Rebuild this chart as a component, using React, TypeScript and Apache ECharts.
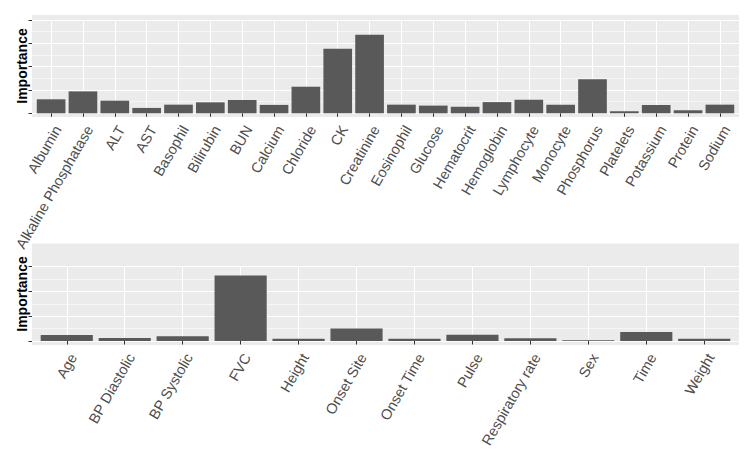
import React, { useEffect, useRef } from "react";
import * as echarts from "echarts";

const labCategories = [
  "Albumin", "Alkaline Phosphatase", "ALT", "AST", "Basophil", "Bilirubin", "BUN",
  "Calcium", "Chloride", "CK", "Creatinine", "Eosinophil", "Glucose", "Hematocrit",
  "Hemoglobin", "Lymphocyte", "Monocyte", "Phosphorus", "Platelets", "Potassium",
  "Protein", "Sodium",
];
const labImportance = [
  0.6, 0.94, 0.54, 0.23, 0.37, 0.47, 0.57, 0.36, 1.14, 2.77, 3.37, 0.37, 0.33, 0.28,
  0.48, 0.58, 0.37, 1.46, 0.09, 0.36, 0.13, 0.37,
];
const clinicalCategories = [
  "Age", "BP Diastolic", "BP Systolic", "FVC", "Height", "Onset Site", "Onset Time",
  "Pulse", "Respiratory rate", "Sex", "Time", "Weight",
];
const clinicalImportance = [
  0.24, 0.12, 0.19, 2.64, 0.09, 0.5, 0.09, 0.25, 0.11, 0.03, 0.36, 0.09,
];
const labAxisMax = 4;
const clinicalAxisMax = 3;
const yTitle = "Importance";

const FONT = "'Liberation Sans', Arial, Helvetica, sans-serif";

type Geo = {
  left: number; right: number; top: number; bottom: number;
  yTop: number; yBase: number; yMax: number;
};

function buildPanel(k: number, cats: string[], vals: number[], g: Geo) {
  const n = cats.length;
  const unit = (g.right - g.left) / (n + 0.2);
  const gi = k * 3;
  const grids = [
    {
      left: g.left, top: g.top, width: g.right - g.left, height: g.bottom - g.top,
      show: true, backgroundColor: "#EBEBEB", borderWidth: 0,
    },
    { left: g.left, top: g.yTop, width: g.right - g.left, height: g.yBase - g.yTop },
    { left: g.left + 0.6 * unit, top: g.yTop, width: (n - 1) * unit, height: g.yBase - g.yTop },
  ];
  const xAxes = [
    { gridIndex: gi, type: "value", show: false },
    { gridIndex: gi + 1, type: "value", show: false },
    {
      gridIndex: gi + 2, type: "category", data: cats, boundaryGap: false,
      offset: g.bottom - g.yBase,
      axisLine: { show: false },
      axisTick: { show: true, length: 3.5, lineStyle: { color: "#333333", width: 1 } },
      axisLabel: {
        rotate: 60, interval: 0, fontSize: 14.5, color: "#4D4D4D",
        fontFamily: FONT, margin: 6, align: "right", verticalAlign: "top",
      },
      splitLine: { show: true, lineStyle: { color: "#FFFFFF", width: 1.1 } },
    },
  ];
  const yAxes = [
    { gridIndex: gi, type: "value", show: false },
    {
      gridIndex: gi + 1, type: "value", min: 0, max: g.yMax, interval: 1,
      axisLine: { show: false },
      axisTick: { show: true, length: 3.5, lineStyle: { color: "#333333", width: 1 } },
      axisLabel: { show: false },
      splitLine: { show: true, lineStyle: { color: "#FFFFFF", width: 1.1 } },
      minorTick: { show: false, splitNumber: 2 },
      minorSplitLine: { show: true, lineStyle: { color: "#FFFFFF", width: 0.55 } },
    },
    { gridIndex: gi + 2, type: "value", min: 0, max: g.yMax, show: false },
  ];
  const series = [
    {
      type: "bar", xAxisIndex: gi + 2, yAxisIndex: gi + 2, data: vals,
      barWidth: 0.9 * unit, clip: false,
      itemStyle: { color: "#595959" },
    },
  ];
  return { grids, xAxes, yAxes, series };
}

export default function App() {
  const ref = useRef<HTMLDivElement>(null);
  useEffect(() => {
    if (!ref.current) return;
    const chart = echarts.init(ref.current, undefined, { renderer: "svg" });
    const top = buildPanel(0, labCategories, labImportance, {
      left: 32, right: 739, top: 15, bottom: 117, yTop: 20, yBase: 113.3, yMax: labAxisMax,
    });
    const bot = buildPanel(1, clinicalCategories, clinicalImportance, {
      left: 32, right: 739, top: 243.5, bottom: 345, yTop: 266.7, yBase: 341, yMax: clinicalAxisMax,
    });
    chart.setOption({
      animation: false,
      backgroundColor: "#FFFFFF",
      grid: [...top.grids, ...bot.grids],
      xAxis: [...top.xAxes, ...bot.xAxes],
      yAxis: [...top.yAxes, ...bot.yAxes],
      series: [...top.series, ...bot.series],
      graphic: [
        {
          type: "text", x: 22, y: 66, rotation: Math.PI / 2,
          style: {
            text: yTitle, fontSize: 14, fontWeight: "bold", fill: "#000000",
            fontFamily: FONT, align: "center", verticalAlign: "middle",
          },
        },
        {
          type: "text", x: 22, y: 294, rotation: Math.PI / 2,
          style: {
            text: yTitle, fontSize: 14, fontWeight: "bold", fill: "#000000",
            fontFamily: FONT, align: "center", verticalAlign: "middle",
          },
        },
      ],
    });
    return () => chart.dispose();
  }, []);
  return (
    <div
      ref={ref}
      style={{ position: "fixed", left: 0, top: 0, width: 749, height: 453 }}
    />
  );
}
